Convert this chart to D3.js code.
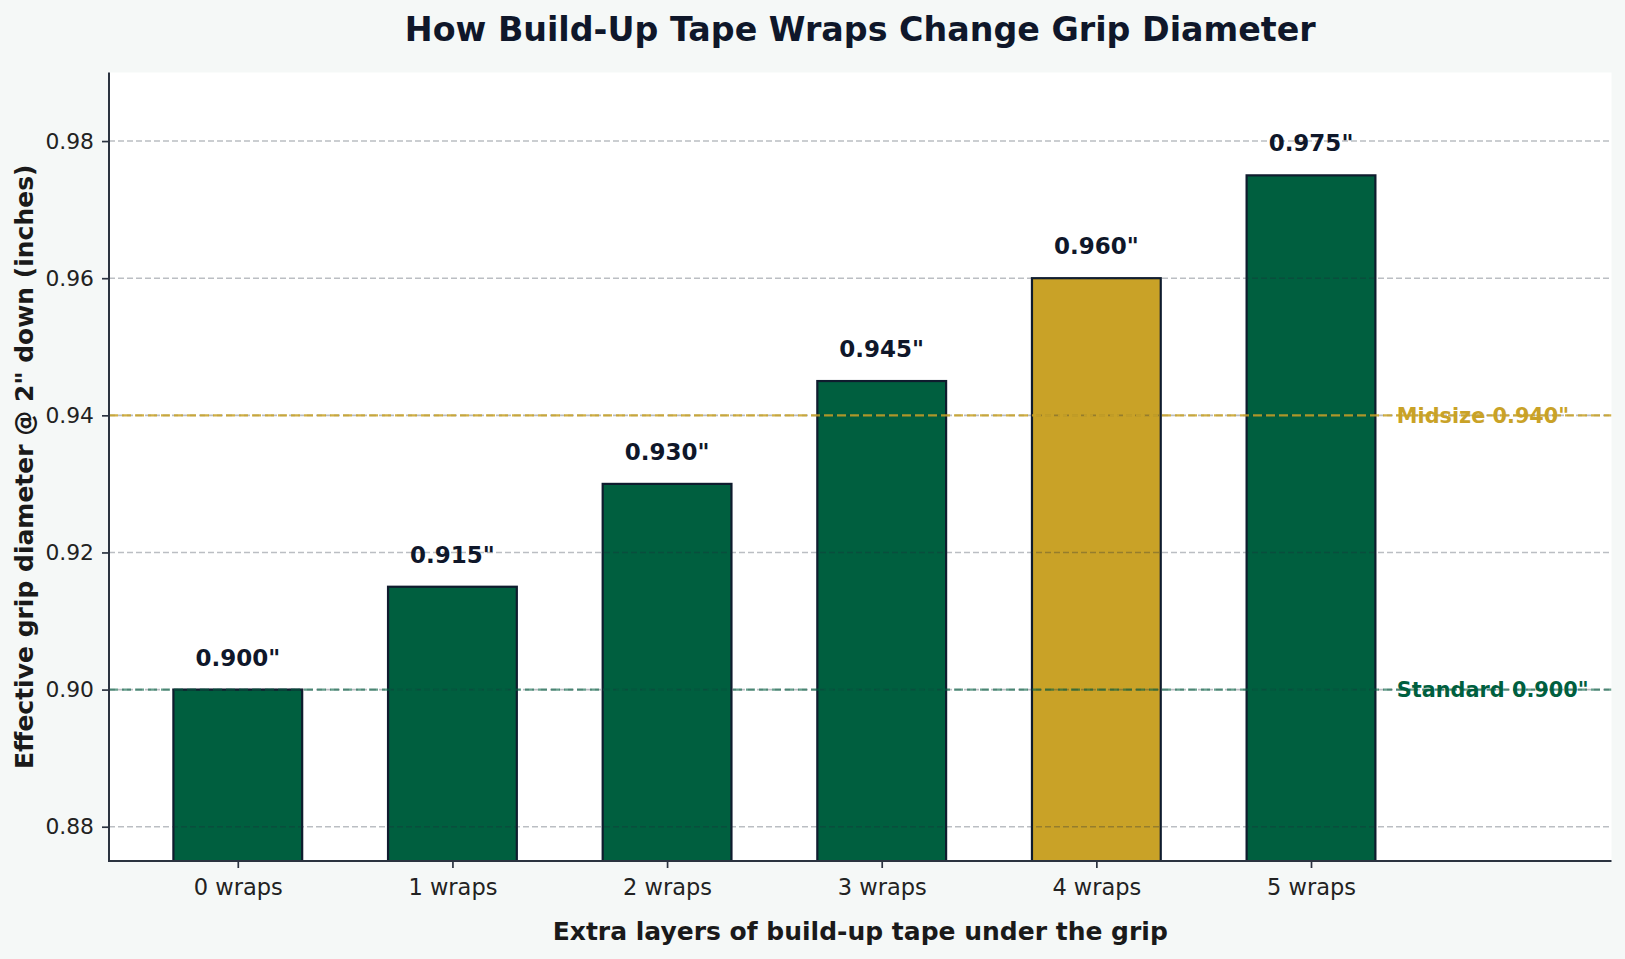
<!DOCTYPE html>
<html>
<head>
<meta charset="utf-8">
<script src="https://cdn.jsdelivr.net/npm/d3@7"></script>
<style>
  html, body { margin: 0; padding: 0; background: #F5F8F7; }
  svg { display: block; font-family: "DejaVu Sans", sans-serif; }
</style>
</head>
<body>
<svg id="chart" width="1625" height="959"></svg>
<script>
// ---- data ----
const categories = ["0 wraps", "1 wraps", "2 wraps", "3 wraps", "4 wraps", "5 wraps"];
const diameters = [0.900, 0.915, 0.930, 0.945, 0.960, 0.975];
const highlightIndex = [4];
const yTicks = [0.88, 0.90, 0.92, 0.94, 0.96, 0.98];
const refValues = [0.900, 0.940];
const refLabels = ["Standard 0.900\"", "Midsize 0.940\""];
const title = "How Build-Up Tape Wraps Change Grip Diameter";
const xTitle = "Extra layers of build-up tape under the grip";
const yTitle = "Effective grip diameter @ 2\" down (inches)";

// ---- style ----
const W = 1625, H = 959;
const m = { left: 109, right: 1611.5, top: 72.5, bottom: 861 };
const green = "#005F3F", gold = "#C9A227", edge = "#0F1C2E", navy = "#0F172A";
const refColors = [green, gold];
const refOpacity = [0.6, 0.85];

const svg = d3.select("#chart");
svg.append("rect").attr("width", W).attr("height", H).attr("fill", "#F5F8F7");

const x = d3.scaleLinear().domain([-0.6, 6.4]).range([m.left, m.right]);
const y = d3.scaleLinear().domain([0.875, 0.99]).range([m.bottom, m.top]);
const barW = 0.6;

// plot background
svg.append("rect").attr("x", m.left).attr("y", m.top)
  .attr("width", m.right - m.left).attr("height", m.bottom - m.top).attr("fill", "#ffffff");

const plot = svg.append("g");
plot.append("clipPath").attr("id", "clip").append("rect")
  .attr("x", m.left).attr("y", m.top).attr("width", m.right - m.left).attr("height", m.bottom - m.top);
const inner = plot.append("g").attr("clip-path", "url(#clip)");

// bars
inner.selectAll("rect.bar").data(diameters).enter().append("rect")
  .attr("class", "bar")
  .attr("x", (d, i) => x(i - barW / 2))
  .attr("width", (d, i) => x(i + barW / 2) - x(i - barW / 2))
  .attr("y", d => y(d))
  .attr("height", d => y(0.875) - y(d) + 4)
  .attr("fill", (d, i) => highlightIndex.includes(i) ? gold : green)
  .attr("stroke", edge).attr("stroke-width", 2.2);

// grid
inner.selectAll("line.grid").data(yTicks).enter().append("line")
  .attr("x1", m.left).attr("x2", m.right)
  .attr("y1", d => y(d)).attr("y2", d => y(d))
  .attr("stroke", "#1f2937").attr("stroke-opacity", 0.3)
  .attr("stroke-width", 1.6).attr("stroke-dasharray", "6,3");

// reference lines
inner.selectAll("line.ref").data(refValues).enter().append("line")
  .attr("x1", m.left).attr("x2", m.right)
  .attr("y1", d => y(d)).attr("y2", d => y(d))
  .attr("stroke", (d, i) => refColors[i]).attr("stroke-opacity", (d, i) => refOpacity[i])
  .attr("stroke-width", 2.4).attr("stroke-dasharray", "9,4");

// reference labels
svg.selectAll("text.ref").data(refValues).enter().append("text")
  .attr("x", x(5.4)).attr("y", d => y(d)).attr("dy", "0.36em")
  .attr("fill", (d, i) => refColors[i])
  .attr("font-size", 20.8).attr("font-weight", "bold")
  .text((d, i) => refLabels[i]);

// value labels
svg.selectAll("text.val").data(diameters).enter().append("text")
  .attr("x", (d, i) => x(i)).attr("y", d => y(d) - 24)
  .attr("text-anchor", "middle").attr("fill", navy)
  .attr("font-size", 23).attr("font-weight", "bold")
  .text(d => d.toFixed(3) + "\"");

// axes
const yAxis = d3.axisLeft(y).tickValues(yTicks).tickFormat(d3.format(".2f")).tickSize(7).tickPadding(8);
const gy = svg.append("g").attr("transform", `translate(${m.left},0)`).call(yAxis);
const xAxis = d3.axisBottom(x).tickValues(d3.range(categories.length)).tickFormat(i => categories[i]).tickSize(7).tickPadding(11);
const gx = svg.append("g").attr("transform", `translate(0,${m.bottom})`).call(xAxis);
[gx, gy].forEach(g => {
  g.attr("font-size", null).attr("font-family", null);
  g.select(".domain").remove();
  g.selectAll(".tick line").attr("stroke", "#2b3340").attr("stroke-width", 1.7);
  g.selectAll(".tick text").attr("fill", "#222222")
    .style("font-size", "21.8px").style("font-family", "'DejaVu Sans', sans-serif");
});
gx.selectAll(".tick text").style("font-size", "22.5px");

// spines
svg.append("line").attr("x1", m.left).attr("x2", m.left).attr("y1", m.top).attr("y2", m.bottom)
  .attr("stroke", "#2b3340").attr("stroke-width", 2);
svg.append("line").attr("x1", m.left - 1).attr("x2", m.right).attr("y1", m.bottom).attr("y2", m.bottom)
  .attr("stroke", "#2b3340").attr("stroke-width", 2);

// titles
svg.append("text").attr("x", (m.left + m.right) / 2).attr("y", 41)
  .attr("text-anchor", "middle").attr("fill", navy)
  .attr("font-size", 33.3).attr("font-weight", "bold").text(title);
svg.append("text").attr("x", (m.left + m.right) / 2).attr("y", 940)
  .attr("text-anchor", "middle").attr("fill", "#1a1a1a")
  .attr("font-size", 25).attr("font-weight", "bold").text(xTitle);
svg.append("text")
  .attr("transform", `translate(33,${(m.top + m.bottom) / 2}) rotate(-90)`)
  .attr("text-anchor", "middle").attr("fill", "#1a1a1a")
  .attr("font-size", 25).attr("font-weight", "bold").text(yTitle);
</script>
</body>
</html>
